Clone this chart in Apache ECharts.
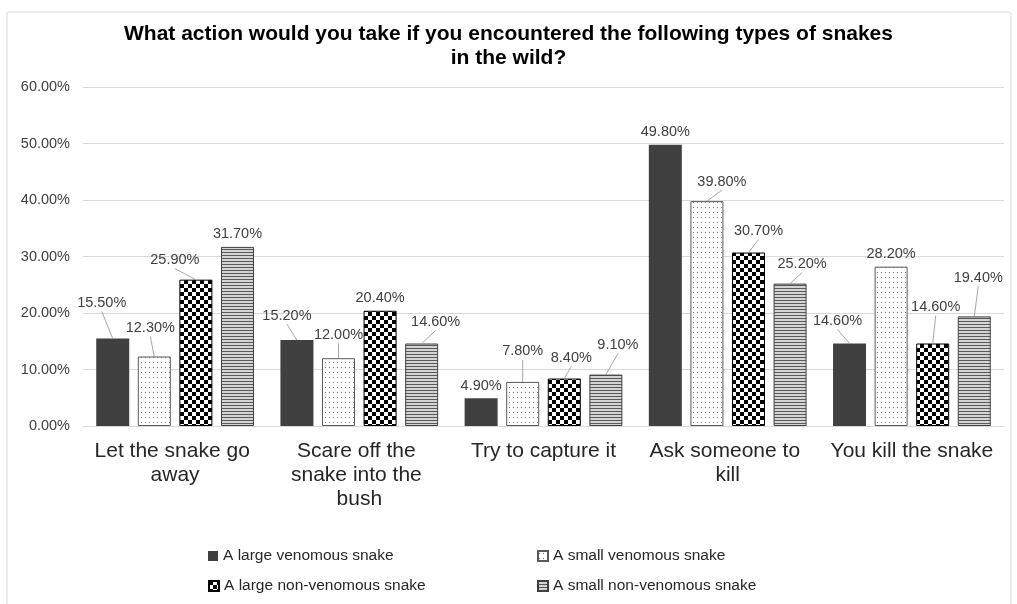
<!DOCTYPE html>
<html>
<head>
<meta charset="utf-8">
<script src="https://cdn.jsdelivr.net/npm/echarts@6/dist/echarts.min.js"></script>
<style>
  html, body { margin: 0; padding: 0; background: #fff; }
  #chart { width: 1017px; height: 604px; }
</style>
</head>
<body>
<div id="chart"></div>
<script>
// categories and series
const categories = ['Let the snake go away', 'Scare off the snake into the bush', 'Try to capture it', 'Ask someone to kill', 'You kill the snake'];
const seriesNames = ['A large venomous snake', 'A small venomous snake', 'A large non-venomous snake', 'A small non-venomous snake'];
const largeVenomous = [15.5, 15.2, 4.9, 49.8, 14.6];
const smallVenomous = [12.3, 12.0, 7.8, 39.8, 28.2];
const largeNonVenomous = [25.9, 20.4, 8.4, 30.7, 14.6];
const smallNonVenomous = [31.7, 14.6, 9.1, 25.2, 19.4];
const yTicks = [0, 10, 20, 30, 40, 50, 60];

// where each data label sits relative to its default spot (dx, dy)
const labelShift = [
  [[-11, -23], [-10, -12], [0, 0], [0, 0], [-12, -10]],
  [[-4, -16], [0, -11], [0, -18], [15, -7], [0, 0]],
  [[-21, -7], [0, 0], [7, -8], [10, -9], [3, -24]],
  [[0, 0], [14, -9], [12, -17], [12, -7], [4, -26]]
];

const FONT = 'Arial, "Liberation Sans", sans-serif';
const BAR_W = 33;
const BAR_GAP = 0.26;

// fill patterns drawn on little canvases
function makePattern(kind) {
  const c = document.createElement('canvas');
  const g = c.getContext('2d');
  if (kind === 'dots') {
    c.width = 4; c.height = 5;
    g.fillStyle = '#fff'; g.fillRect(0, 0, 4, 5);
    g.fillStyle = '#7a7a7a'; g.fillRect(1, 2, 1, 1);
  } else if (kind === 'checker') {
    c.width = 8; c.height = 8;
    g.fillStyle = '#fff'; g.fillRect(0, 0, 8, 8);
    g.fillStyle = '#000';
    g.fillRect(0, 0, 4, 4); g.fillRect(4, 4, 4, 4);
  } else {
    c.width = 4; c.height = 3;
    g.fillStyle = '#d4d4d4'; g.fillRect(0, 0, 4, 3);
    g.fillStyle = '#595959'; g.fillRect(0, 0, 4, 1);
  }
  return { image: c, repeat: 'repeat' };
}

const fills = [
  { color: '#404040', borderColor: '#404040', borderWidth: 0 },
  { color: makePattern('dots'), borderColor: '#595959', borderWidth: 1 },
  { color: makePattern('checker'), borderColor: '#000', borderWidth: 1 },
  { color: makePattern('stripes'), borderColor: '#404040', borderWidth: 1 }
];
const values = [largeVenomous, smallVenomous, largeNonVenomous, smallNonVenomous];

const chart = echarts.init(document.getElementById('chart'), null, { renderer: 'canvas' });

const series = seriesNames.map(function (name, si) {
  return {
    name: name,
    type: 'bar',
    data: values[si],
    barWidth: BAR_W,
    barGap: (BAR_GAP * 100) + '%',
    itemStyle: fills[si],
    label: {
      show: true,
      position: 'top',
      distance: 5,
      color: '#404040',
      fontSize: 14.5,
      fontFamily: FONT,
      formatter: function (p) { return p.value.toFixed(2) + '%'; }
    },
    labelLayout: function (p) {
      const s = labelShift[si][p.dataIndex];
      return { dx: s[0], dy: s[1] };
    }
  };
});

// leader lines from moved labels down to the middle of the bar top
const leaderData = [];
values.forEach(function (arr, si) {
  arr.forEach(function (v, ci) {
    const s = labelShift[si][ci];
    if (s[0] !== 0 || s[1] !== 0) leaderData.push([ci, v, si]);
  });
});
series.push({
  type: 'custom',
  name: 'leaders',
  silent: true,
  z: 3,
  encode: { x: 0, y: 1 },
  data: leaderData,
  renderItem: function (params, api) {
    const ci = api.value(0), v = api.value(1), si = api.value(2);
    const p = api.coord([ci, v]);
    const gap = BAR_W * BAR_GAP;
    const x = p[0] - (4 * BAR_W + 3 * gap) / 2 + BAR_W / 2 + si * (BAR_W + gap);
    const s = labelShift[si][ci];
    return {
      type: 'line',
      shape: { x1: x + s[0], y1: p[1] - 4 + s[1], x2: x, y2: p[1] },
      style: { stroke: '#a6a6a6', lineWidth: 1 }
    };
  }
});

const legendPos = [[203, 543], [532, 543], [203, 573], [532, 573]];
const legends = seriesNames.map(function (name, i) {
  return {
    data: [name],
    left: legendPos[i][0],
    top: legendPos[i][1],
    icon: 'rect',
    itemWidth: 10,
    itemHeight: 10,
    itemGap: 4,
    selectedMode: false,
    textStyle: { fontSize: 15.5, color: '#262626', fontFamily: FONT }
  };
});

chart.setOption({
  animation: false,
  backgroundColor: '#fff',
  title: {
    text: 'What action would you take if you encountered the following types of snakes\nin the wild?',
    left: 'center',
    top: 17,
    textStyle: { fontSize: 21, fontWeight: 'bold', color: '#000', fontFamily: FONT, lineHeight: 24 }
  },
  graphic: [{
    type: 'rect',
    shape: { x: 7, y: 12, width: 1004, height: 600, r: 2 },
    style: { fill: 'none', stroke: '#d9d9d9', lineWidth: 1 },
    silent: true,
    z: -1
  }],
  legend: legends,
  grid: { left: 83, right: 13, top: 87, bottom: 178 },
  xAxis: {
    type: 'category',
    data: categories,
    axisTick: { show: false },
    axisLine: { lineStyle: { color: '#d9d9d9' } },
    axisLabel: {
      interval: 0,
      margin: 13,
      width: 172,
      overflow: 'break',
      fontSize: 21,
      lineHeight: 24,
      color: '#262626',
      fontFamily: FONT
    }
  },
  yAxis: {
    type: 'value',
    min: yTicks[0],
    max: yTicks[yTicks.length - 1],
    interval: yTicks[1] - yTicks[0],
    axisLine: { show: false },
    axisTick: { show: false },
    splitLine: { lineStyle: { color: '#d9d9d9' } },
    axisLabel: {
      margin: 13,
      fontSize: 14.5,
      color: '#404040',
      fontFamily: FONT,
      formatter: function (v) { return v.toFixed(2) + '%'; }
    }
  },
  series: series
});
</script>
</body>
</html>
